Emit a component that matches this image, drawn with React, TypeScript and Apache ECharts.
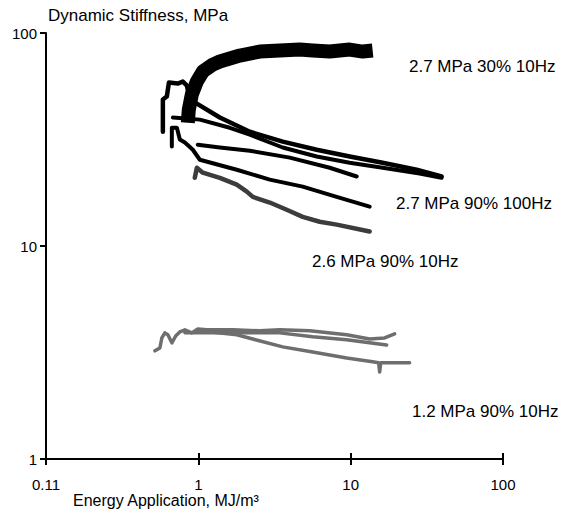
import React, { useEffect, useRef } from "react";
import * as echarts from "echarts";

// Tick values
const xTicks = [0.1, 1, 10, 100];
const yTicks = [1, 10, 100];

// 2.7 MPa 30% 10Hz (thick noisy band)
const s30_10: [number, number][] = [
  [0.853, 37.9], [0.866, 43.7], [0.906, 51.4], [0.978, 59.2], [1.07, 65.9],
  [1.245, 71.1], [1.384, 73.5], [1.872, 78.4], [2.531, 81.8], [3.422, 82.7],
  [4.63, 83.6], [5.633, 82.7], [7.284, 81.8], [9.849, 83.6], [12.0, 81.8], [13.94, 82.7],
];

// 2.7 MPa curves (black, descending)
const s27a: [number, number][] = [
  [0.585, 34.4], [0.585, 48.7], [0.621, 50.3], [0.641, 58.5], [0.734, 57.9],
  [0.791, 59.2], [0.841, 56.6], [0.88, 48.7], [0.978, 46.6], [1.384, 40.1],
  [2.177, 34.4], [3.581, 30.9], [5.984, 28.3], [9.849, 26.3], [16.21, 24.6],
  [27.09, 22.8], [39.51, 21.2],
];
const s27b: [number, number][] = [
  [0.681, 40.1], [1.023, 39.2], [1.609, 35.9], [2.177, 33.3], [3.581, 29.0],
  [5.984, 26.3], [9.849, 24.6], [16.21, 23.3], [28.34, 21.9], [39.51, 20.9],
];
const s27c: [number, number][] = [
  [0.992, 29.9], [1.384, 29.0], [2.177, 28.0], [3.981, 26.0], [7.284, 23.3], [10.95, 21.2],
];
const s27_100: [number, number][] = [
  [0.67, 29.3], [0.67, 35.9], [0.723, 35.9], [0.756, 31.6], [0.816, 30.6],
  [0.92, 28.3], [1.023, 25.4], [1.788, 22.8], [2.944, 20.5], [4.844, 19.0],
  [8.094, 17.0], [13.32, 15.3],
];

// 2.6 MPa 90% 10Hz
const s26: [number, number][] = [
  [0.948, 20.9], [0.978, 23.3], [1.07, 22.1], [1.384, 20.9], [1.788, 19.4],
  [2.08, 18.0], [2.278, 17.0], [2.944, 16.0], [3.804, 14.8], [4.844, 13.7],
  [6.262, 13.0], [8.094, 12.6], [13.32, 11.7],
];

// 1.2 MPa 90% 10Hz (three runs)
const s12a: [number, number][] = [
  [0.519, 3.22], [0.559, 3.32], [0.576, 3.7], [0.603, 3.91], [0.631, 3.83],
  [0.67, 3.51], [0.712, 3.79], [0.756, 3.95], [0.816, 4.04], [0.906, 3.91],
  [0.992, 4.08], [1.137, 4.04], [1.684, 4.04], [2.531, 4.0], [3.422, 4.04],
  [5.384, 4.0], [9.415, 3.83], [13.32, 3.66], [16.71, 3.7], [19.44, 3.87],
];
const s12b: [number, number][] = [
  [0.816, 3.91], [1.684, 3.91], [3.422, 3.91], [5.633, 3.75], [9.415, 3.63], [17.22, 3.43],
];
const s12c: [number, number][] = [
  [1.023, 4.0], [1.788, 3.83], [3.581, 3.36], [5.633, 3.18], [9.415, 2.98],
  [13.94, 2.86], [15.26, 2.83], [15.5, 2.56], [15.74, 2.83], [24.37, 2.83],
];

const labels = [
  { text: "2.7 MPa 30% 10Hz", x: 409, y: 66 },
  { text: "2.7 MPa 90% 100Hz", x: 396, y: 203 },
  { text: "2.6 MPa 90% 10Hz", x: 312, y: 261 },
  { text: "1.2 MPa 90% 10Hz", x: 412, y: 411 },
];

const FONT = '"Liberation Sans", Arial, sans-serif';

function line(data: [number, number][], color: string, width: number, cap = "round", xAxisIndex = 0) {
  return {
    type: "line",
    data,
    showSymbol: false,
    symbol: "none",
    silent: true,
    lineStyle: { color, width, join: "round", cap },
    xAxisIndex,
    yAxisIndex: 0,
  };
}

export default function App() {
  const ref = useRef<HTMLDivElement>(null);
  useEffect(() => {
    document.body.style.margin = "0";
    const chart = echarts.init(ref.current!, null, { renderer: "svg" });
    const xFmt = (v: number) => (v < 0.5 ? "0.11" : String(Math.round(v)));
    const axisLine = { show: true, lineStyle: { color: "#000", width: 2 } };
    chart.setOption({
      animation: false,
      backgroundColor: "#fff",
      grid: { left: 46, right: 61, top: 33, bottom: 53 },
      xAxis: [
        {
          type: "log",
          position: "bottom",
          min: xTicks[0],
          max: xTicks[xTicks.length - 1],
          axisLine,
          axisTick: { show: true, length: 6, inside: true, lineStyle: { color: "#000", width: 2 } },
          axisLabel: { show: true, color: "rgba(0,0,0,0)", fontSize: 10 },
          splitLine: { show: false },
        },
        {
          type: "log",
          position: "bottom",
          min: xTicks[0],
          max: xTicks[xTicks.length - 1],
          axisLine,
          axisTick: { show: true, length: 6, inside: false, lineStyle: { color: "#000", width: 2 } },
          axisLabel: { fontSize: 15, fontFamily: FONT, color: "#000", margin: 18, formatter: xFmt },
          splitLine: { show: false },
          minorTick: { show: false },
        },
      ],
      yAxis: {
        type: "log",
        min: yTicks[0],
        max: yTicks[yTicks.length - 1],
        axisLine,
        axisTick: { show: true, length: 6, lineStyle: { color: "#000", width: 2 } },
        axisLabel: {
          fontSize: 15,
          fontFamily: FONT,
          color: "#000",
          margin: 9,
          formatter: (v: number) => String(Math.round(v)),
        },
        splitLine: { show: false },
      },
      series: [
        line(s12a, "#6e6e6e", 3.5),
        line(s12b, "#6e6e6e", 3.5, "round", 1),
        line(s12c, "#6e6e6e", 3.5, "round", 1),
        line(s26, "#3c3c3c", 4.5),
        line(s27_100, "#000", 4),
        line(s27c, "#000", 4),
        line(s27b, "#000", 4),
        line(s27a, "#000", 4.5),
        line(s30_10, "#000", 14, "butt"),
      ],
      graphic: [
        {
          type: "text",
          x: 48,
          y: 15,
          style: { text: "Dynamic Stiffness, MPa", font: `17px ${FONT}`, fill: "#000", verticalAlign: "middle", align: "left" },
        },
        {
          type: "text",
          x: 73,
          y: 500,
          style: { text: "Energy Application, MJ/m³", font: `16px ${FONT}`, fill: "#000", verticalAlign: "middle", align: "left" },
        },
        ...labels.map((l) => ({
          type: "text",
          x: l.x,
          y: l.y,
          style: { text: l.text, font: `17px ${FONT}`, fill: "#000", verticalAlign: "middle", align: "left" },
        })),
      ],
    });
    return () => chart.dispose();
  }, []);
  return <div ref={ref} style={{ width: 564, height: 512 }} />;
}
